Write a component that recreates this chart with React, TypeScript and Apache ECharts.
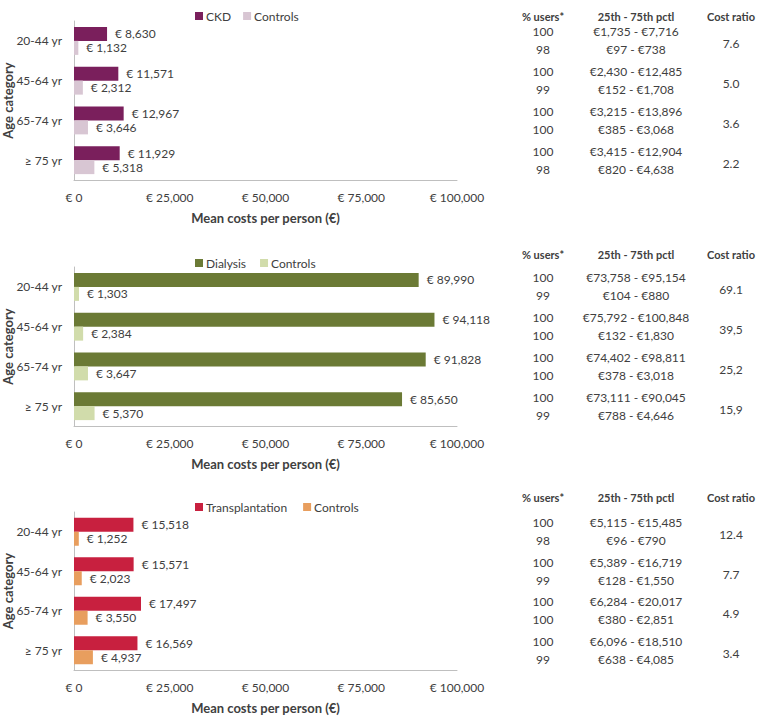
import React, { useEffect, useRef } from 'react';
import * as echarts from 'echarts';

const categories = ['20-44 yr', '45-64 yr', '65-74 yr', '≥ 75 yr'];
const xTicks = [0, 25000, 50000, 75000, 100000];

const ckd = [8630, 11571, 12967, 11929];
const ckdControls = [1132, 2312, 3646, 5318];
const ckdUsers = [['100', '98'], ['100', '99'], ['100', '100'], ['100', '98']];
const ckdPctl = [['€1,735 - €7,716', '€97 - €738'], ['€2,430 - €12,485', '€152 - €1,708'], ['€3,215 - €13,896', '€385 - €3,068'], ['€3,415 - €12,904', '€820 - €4,638']];
const ckdRatio = ['7.6', '5.0', '3.6', '2.2'];

const dialysis = [89990, 94118, 91828, 85650];
const dialysisControls = [1303, 2384, 3647, 5370];
const dialysisUsers = [['100', '99'], ['100', '100'], ['100', '100'], ['100', '99']];
const dialysisPctl = [['€73,758 - €95,154', '€104 - €880'], ['€75,792 - €100,848', '€132 - €1,830'], ['€74,402 - €98,811', '€378 - €3,018'], ['€73,111 - €90,045', '€788 - €4,646']];
const dialysisRatio = ['69.1', '39,5', '25,2', '15,9'];

const transplant = [15518, 15571, 17497, 16569];
const transplantControls = [1252, 2023, 3550, 4937];
const transplantUsers = [['100', '98'], ['100', '99'], ['100', '100'], ['100', '99']];
const transplantPctl = [['€5,115 - €15,485', '€96 - €790'], ['€5,389 - €16,719', '€128 - €1,550'], ['€6,284 - €20,017', '€380 - €2,851'], ['€6,096 - €18,510', '€638 - €4,085']];
const transplantRatio = ['12.4', '7.7', '4.9', '3.4'];

const tableHeaders = ['% users*', '25th - 75th pctl', 'Cost ratio'];

const FONT = 'Lato, "Open Sans", sans-serif';
const TXT = '#404040';

const panels = [
  { name: 'CKD', color: '#7A1F5C', ctrlColor: '#D8C6D3', values: ckd, ctrl: ckdControls, users: ckdUsers, pctl: ckdPctl, ratio: ckdRatio, top: 21, height: 159, headerY: 16, legendTop: 5, legendGap: 12 },
  { name: 'Dialysis', color: '#6B7A35', ctrlColor: '#D1DCAB', values: dialysis, ctrl: dialysisControls, users: dialysisUsers, pctl: dialysisPctl, ratio: dialysisRatio, top: 267, height: 159, headerY: 254, legendTop: 252, legendGap: 14 },
  { name: 'Transplantation', color: '#C8203F', ctrlColor: '#E89E5E', values: transplant, ctrl: transplantControls, users: transplantUsers, pctl: transplantPctl, ratio: transplantRatio, top: 512, height: 158, headerY: 497, legendTop: 496, legendGap: 16 },
];

const euro = (v: number) => '€ ' + v.toLocaleString('en-US');

export default function App() {
  const ref = useRef<HTMLDivElement>(null);
  useEffect(() => {
    if (!ref.current) return;
    const chart = echarts.init(ref.current, null, { renderer: 'svg' });
    const GRID_LEFT = 74;
    const GRID_WIDTH = 383;
    const colX = [543, 636, 731];

    const grid: any[] = [];
    const xAxis: any[] = [];
    const yAxis: any[] = [];
    const series: any[] = [];
    const legend: any[] = [];
    const graphic: any[] = [];

    panels.forEach((p, i) => {
      grid.push({ left: GRID_LEFT, top: p.top, width: GRID_WIDTH, height: p.height, containLabel: false, outerBoundsMode: 'none' });
      xAxis.push({
        gridIndex: i, type: 'value', min: 0, max: 100000, interval: 25000,
        axisLine: { show: true, lineStyle: { color: '#BFBFBF', width: 1 } },
        axisTick: { show: false }, splitLine: { show: false },
        axisLabel: { color: TXT, fontFamily: FONT, fontSize: 12, margin: 11, formatter: (v: number) => (xTicks.includes(v) ? euro(v) : '') },
        name: 'Mean costs per person (€)', nameLocation: 'middle', nameGap: 31,
        nameTextStyle: { color: TXT, fontFamily: FONT, fontSize: 13, fontWeight: 'bold' },
      });
      yAxis.push({
        gridIndex: i, type: 'category', data: categories, inverse: true,
        axisLine: { show: true, lineStyle: { color: '#BFBFBF', width: 1 } },
        axisTick: { show: false },
        axisLabel: { color: TXT, fontFamily: FONT, fontSize: 12, margin: 12 },
      });
      graphic.push({
        type: 'text', x: 8, y: p.top + p.height / 2, rotation: Math.PI / 2,
        style: { text: 'Age category', fill: TXT, font: `bold 13px ${FONT}`, textAlign: 'center', textVerticalAlign: 'middle' },
      });
      const ctrlName = 'Controls_' + i;
      const lbl = { show: true, position: 'right', distance: 8, color: TXT, fontFamily: FONT, fontSize: 12, formatter: (q: any) => euro(q.value) };
      series.push({ type: 'bar', name: p.name, xAxisIndex: i, yAxisIndex: i, data: p.values, barWidth: 14, barGap: '0%', itemStyle: { color: p.color }, label: lbl });
      series.push({ type: 'bar', name: ctrlName, xAxisIndex: i, yAxisIndex: i, data: p.ctrl, barWidth: 14, barGap: '0%', itemStyle: { color: p.ctrlColor }, label: lbl });
      legend.push({
        data: [p.name, ctrlName], left: 190, top: p.legendTop, itemWidth: 8, itemHeight: 8, itemGap: p.legendGap, icon: 'rect',
        textStyle: { color: TXT, fontFamily: FONT, fontSize: 12, padding: [0, 0, 0, -2] },
        formatter: (n: string) => n.replace(/_\d$/, ''),
      });
      tableHeaders.forEach((h, c) => {
        graphic.push({ type: 'text', x: colX[c], y: p.headerY, style: { text: h, fill: TXT, font: `bold 11px ${FONT}`, textAlign: 'center', textVerticalAlign: 'middle' } });
      });
      const band = p.height / categories.length;
      categories.forEach((_, k) => {
        const cy = p.top + band * (k + 0.5);
        [0, 1].forEach((r) => {
          const y = cy + (r === 0 ? -9 : 9);
          graphic.push({ type: 'text', x: colX[0], y, style: { text: p.users[k][r], fill: TXT, font: `12px ${FONT}`, textAlign: 'center', textVerticalAlign: 'middle' } });
          graphic.push({ type: 'text', x: colX[1], y, style: { text: p.pctl[k][r], fill: TXT, font: `12px ${FONT}`, textAlign: 'center', textVerticalAlign: 'middle' } });
        });
        graphic.push({ type: 'text', x: colX[2], y: cy + 3, style: { text: p.ratio[k], fill: TXT, font: `12px ${FONT}`, textAlign: 'center', textVerticalAlign: 'middle' } });
      });
    });

    chart.setOption({
      animation: false,
      backgroundColor: '#ffffff',
      grid, xAxis, yAxis, series, legend, graphic,
    });
    return () => chart.dispose();
  }, []);
  return <div ref={ref} style={{ position: 'absolute', left: 0, top: 0, width: 760, height: 716 }} />;
}
